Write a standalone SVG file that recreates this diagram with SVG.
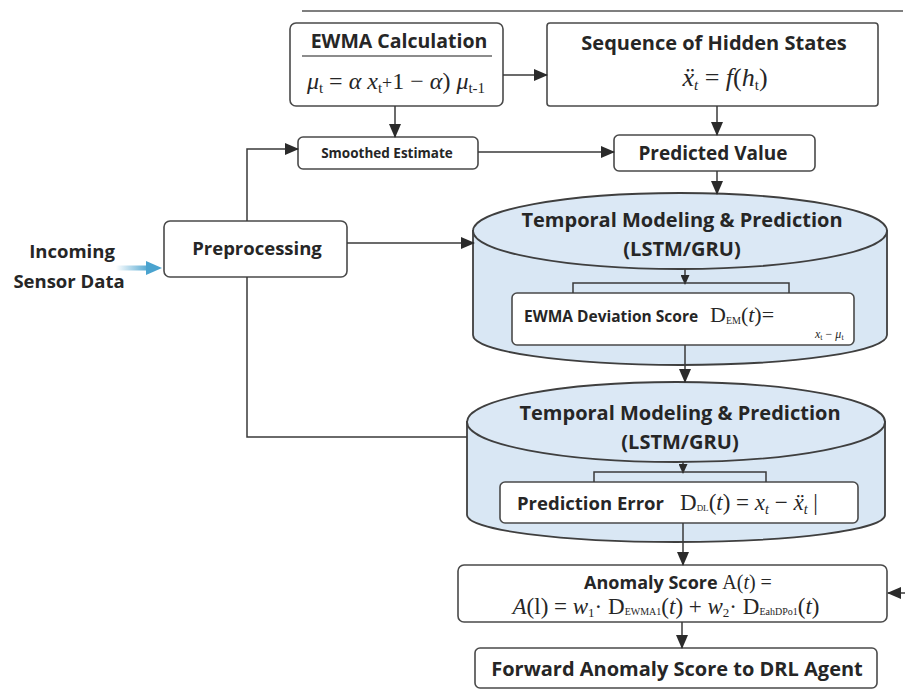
<svg xmlns="http://www.w3.org/2000/svg" width="905" height="690" viewBox="0 0 905 690">
<defs>
<style>
.box{fill:#fff;stroke:#4a4a4a;stroke-width:1.6}
.cyl{fill:#d9e7f4;stroke:#3f3f3f;stroke-width:1.8}
.top{fill:#dbe8f5;stroke:#3f3f3f;stroke-width:1.8}
.lbl{font-family:"Open Sans","Liberation Sans",sans-serif;font-weight:bold;fill:#262626}
.math{font-family:"Liberation Serif","DejaVu Serif",serif;fill:#262626}
.it{font-style:italic}
.ln{fill:none;stroke:#3a3a3a;stroke-width:1.5}
</style>
<marker id="ah" markerWidth="14" markerHeight="12" refX="13" refY="6" orient="auto" markerUnits="userSpaceOnUse">
<path d="M0,0 L14,6 L0,12 Z" fill="#2b2b2b"/>
</marker>
<marker id="ahs" markerWidth="10" markerHeight="9" refX="9" refY="4.5" orient="auto" markerUnits="userSpaceOnUse">
<path d="M0,0 L10,4.5 L0,9 Z" fill="#2b2b2b"/>
</marker>
<linearGradient id="blue" gradientUnits="userSpaceOnUse" x1="116" y1="0" x2="150" y2="0">
<stop offset="0" stop-color="#4aa3cf" stop-opacity="0"/>
<stop offset="1" stop-color="#4aa3cf" stop-opacity="1"/>
</linearGradient>
</defs>
<rect width="905" height="690" fill="#fff"/>
<line x1="302" y1="11" x2="903" y2="11" stroke="#555" stroke-width="1.6"/>

<g id="ewma">
<rect class="box" x="290" y="23" width="213" height="83" rx="6"/>
<text class="lbl" x="399" y="48" font-size="19.5" text-anchor="middle">EWMA Calculation</text>
<line x1="302" y1="56" x2="492" y2="56" stroke="#666" stroke-width="1.5"/>
<text class="math" x="396" y="89" font-size="24" text-anchor="middle"><tspan class="it">μ</tspan><tspan font-size="15" dy="4">t</tspan><tspan dy="-4"> = </tspan><tspan class="it">α x</tspan><tspan font-size="15" dy="4">t</tspan><tspan dy="-4" font-size="18">+</tspan>1 − <tspan class="it">α</tspan>) <tspan class="it">μ</tspan><tspan font-size="15" dy="4">t-1</tspan></text>
</g>

<g id="hidden">
<rect class="box" x="547" y="23" width="331" height="83" rx="3"/>
<text class="lbl" x="714" y="50" font-size="20" text-anchor="middle">Sequence of Hidden States</text>
<text class="math" x="725" y="86" font-size="26" text-anchor="middle"><tspan class="it">ẍ</tspan><tspan font-size="15" dy="4" class="it">t</tspan><tspan dy="-4"> = </tspan><tspan class="it">f</tspan>(<tspan class="it">h</tspan><tspan font-size="15" dy="4">t</tspan><tspan dy="-4">)</tspan></text>
</g>

<g id="smoothed">
<rect class="box" x="298" y="137" width="180" height="32" rx="5"/>
<text class="lbl" x="387" y="158" font-size="13.5" text-anchor="middle">Smoothed Estimate</text>
</g>

<g id="predicted">
<rect class="box" x="614" y="135" width="201" height="36" rx="5"/>
<text class="lbl" x="713" y="160" font-size="19" text-anchor="middle">Predicted Value</text>
</g>

<g id="incoming">
<text class="lbl" x="72" y="258" font-size="18.5" text-anchor="middle">Incoming</text>
<text class="lbl" x="69" y="288" font-size="18.5" text-anchor="middle">Sensor Data</text>
</g>

<g id="preprocessing">
<rect class="box" x="164" y="221" width="183" height="56" rx="6"/>
<text class="lbl" x="257" y="255" font-size="18.5" text-anchor="middle">Preprocessing</text>
</g>

<g id="temporal1">
<path class="cyl" d="M473,231 L473,335 A207,30 0 0 0 887,335 L887,231 Z"/>
<ellipse class="top" cx="680" cy="231" rx="207" ry="38"/>
<text class="lbl" x="682" y="227" font-size="20" text-anchor="middle">Temporal Modeling &amp; Prediction</text>
<text class="lbl" x="682" y="256" font-size="20" text-anchor="middle">(LSTM/GRU)</text>
</g>

<g id="ewmadev">
<rect class="box" x="512" y="293" width="342" height="52" rx="5"/>
<text class="lbl" x="524" y="322" font-size="15.5">EWMA Deviation Score</text>
<text class="math" x="710" y="322" font-size="22">D<tspan font-size="10" dy="2">EM</tspan><tspan dy="-2">(</tspan><tspan class="it">t</tspan>)=</text>
<text class="math" x="815" y="338" font-size="12"><tspan class="it">x</tspan><tspan font-size="8" dy="2">t</tspan><tspan dy="-2"> − </tspan><tspan class="it">μ</tspan><tspan font-size="8" dy="2">t</tspan></text>
</g>

<g id="temporal2">
<path class="cyl" d="M467,422 L467,515 A209,27 0 0 0 885,515 L885,422 Z"/>
<ellipse class="top" cx="676" cy="422" rx="209" ry="40"/>
<text class="lbl" x="680" y="420" font-size="20" text-anchor="middle">Temporal Modeling &amp; Prediction</text>
<text class="lbl" x="680" y="449" font-size="20" text-anchor="middle">(LSTM/GRU)</text>
</g>

<g id="prederr">
<rect class="box" x="500" y="482" width="358" height="41" rx="5"/>
<text class="lbl" x="517" y="510" font-size="18.5">Prediction Error</text>
<text class="math" x="680" y="510" font-size="23">D<tspan font-size="9" dy="1">DL</tspan><tspan dy="-1">(</tspan><tspan class="it">t</tspan>) = <tspan class="it">x</tspan><tspan font-size="14" dy="4" class="it">t</tspan><tspan dy="-4"> − </tspan><tspan class="it">ẍ</tspan><tspan font-size="14" dy="4" class="it">t</tspan><tspan dy="-4">  |</tspan></text>
</g>

<g id="anomaly">
<rect class="box" x="458" y="565" width="429" height="57" rx="6"/>
<text x="678" y="589" text-anchor="middle"><tspan class="lbl" font-size="18">Anomaly Score </tspan><tspan class="math" font-size="20">A(<tspan class="it">t</tspan>) =</tspan></text>
<text class="math" x="666" y="614" font-size="23" text-anchor="middle"><tspan class="it">A</tspan>(l) = <tspan class="it">w</tspan><tspan font-size="13" dy="3">1</tspan><tspan dy="-3">· D</tspan><tspan font-size="10" dy="1">EWMA1</tspan><tspan dy="-1">(</tspan><tspan class="it">t</tspan>) + <tspan class="it">w</tspan><tspan font-size="13" dy="3">2</tspan><tspan dy="-3">· D</tspan><tspan font-size="10" dy="1">EahDPo1</tspan><tspan dy="-1">(</tspan><tspan class="it">t</tspan>)</text>
</g>

<g id="forward">
<rect class="box" x="475" y="648" width="402" height="40" rx="5"/>
<text class="lbl" x="677" y="676" font-size="20" text-anchor="middle">Forward Anomaly Score to DRL Agent</text>
</g>

<g id="connectors">
<line class="ln" x1="503" y1="75" x2="547" y2="75" marker-end="url(#ah)"/>
<line class="ln" x1="395" y1="106" x2="395" y2="137" marker-end="url(#ah)"/>
<line class="ln" x1="717" y1="106" x2="717" y2="135" marker-end="url(#ah)"/>
<line class="ln" x1="478" y1="152" x2="614" y2="152" marker-end="url(#ah)"/>
<line class="ln" x1="717" y1="171" x2="717" y2="194" marker-end="url(#ah)"/>
<polyline class="ln" points="247,221 247,149 298,149" marker-end="url(#ah)"/>
<line class="ln" x1="347" y1="243" x2="474" y2="243" marker-end="url(#ah)"/>
<polyline class="ln" points="247,277 247,437 467,437"/>
<line class="ln" x1="685" y1="269" x2="685" y2="284" marker-end="url(#ahs)"/>
<polyline class="ln" points="573,293 573,283 789,283 789,293"/>
<line class="ln" x1="685" y1="345" x2="685" y2="382" marker-end="url(#ah)"/>
<line class="ln" x1="683" y1="462" x2="683" y2="473" marker-end="url(#ahs)"/>
<polyline class="ln" points="594,482 594,472 766,472 766,482"/>
<line class="ln" x1="683" y1="523" x2="683" y2="565" marker-end="url(#ah)"/>
<line class="ln" x1="905" y1="593" x2="888" y2="593" marker-end="url(#ah)"/>
<line class="ln" x1="682" y1="622" x2="682" y2="648" marker-end="url(#ah)"/>
<rect x="116" y="265.5" width="34" height="5" fill="url(#blue)"/>
<path d="M146,261 L162,268 L146,275 Z" fill="#4aa3cf"/>
</g>
</svg>
